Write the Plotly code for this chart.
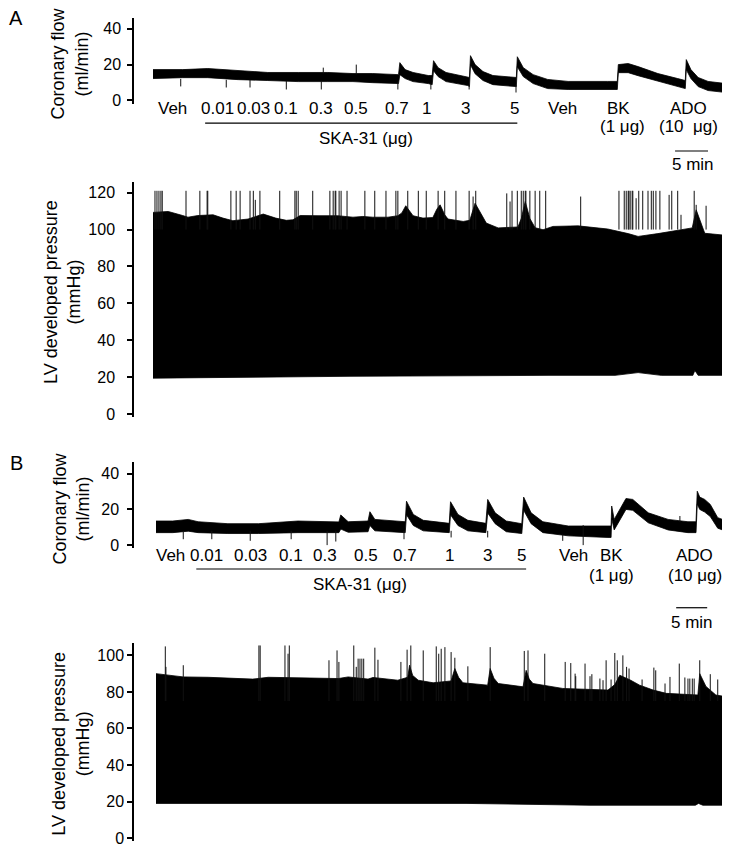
import plotly.graph_objects as go

# ---------------- Panel A : coronary flow (ml/min) vs time (min) ----------------
flow_a_t = [0, 4.5, 8.3, 12.9, 17.4, 22.0, 26.5, 30.3, 33.3, 37.2, 37.4, 38.2, 39.4, 41.7, 42.3,
            42.5, 43.2, 44.4, 47.7, 47.95, 48.1, 48.8, 50.0, 51.5, 55.05, 55.2, 56.1, 57.6, 59.8, 62.9,
            68.9, 70.35, 70.5, 72.0, 73.5, 76.5, 79.5, 80.65, 80.8, 81.5, 82.6, 84.1, 86.8]
flow_a_top = [17.2, 17.2, 17.8, 16.7, 15.6, 15.6, 15.6, 15.0, 15.0, 14.4, 21.1, 17.2, 15.6, 13.9, 13.9,
              22.2, 18.3, 15.6, 12.8, 12.8, 25.0, 20.0, 16.1, 13.9, 12.8, 24.4, 18.3, 14.4, 11.7, 10.6,
              10.6, 10.6, 20.0, 20.6, 18.9, 15.0, 12.2, 11.1, 22.8, 17.2, 12.8, 10.6, 9.4]
flow_a_bot = [12.2, 12.7, 12.7, 11.6, 11.1, 10.5, 10.5, 10.5, 9.9, 9.4, 14.4, 12.2, 10.5, 9.4, 8.8,
              16.6, 13.3, 10.5, 8.3, 7.7, 19.9, 14.9, 11.1, 8.8, 7.7, 18.8, 13.3, 9.4, 6.6, 6.1,
              6.1, 6.1, 15.5, 15.5, 13.8, 10.5, 7.7, 6.6, 17.2, 12.2, 7.7, 5.5, 4.4]
flow_a_spike_t = [4.2, 11.1, 14.7, 20.2, 25.5, 25.8, 30.8, 37.1, 42.1, 47.9, 55.0]
flow_a_spike_from = [12.0, 11.5, 11.5, 11.0, 11.0, 15.0, 14.5, 10.0, 9.5, 8.5, 8.5]
flow_a_spike_to = [7.8, 7.2, 7.2, 6.1, 6.1, 18.3, 20.0, 6.1, 6.1, 6.1, 4.4]

# ---------------- Panel A : LV developed pressure (mmHg) ----------------
press_a_top_t = [0.0, 2.3, 4.5, 5.3, 6.8, 9.1, 10.6, 12.1, 14.4, 16.7, 18.6, 20.2, 21.2, 22.3, 25.0,
                 28.0, 30.3, 31.8, 33.3, 35.6, 37.1, 37.7, 38.3, 39.4, 40.9, 42.4, 43.0, 43.5, 44.2,
                 44.7, 47.0, 48.0, 48.8, 49.5, 50.5, 52.3, 55.3, 55.8, 56.4, 57.1, 57.9, 59.1, 60.6,
                 64.4, 68.9, 72.0, 73.5, 76.5, 78.8, 81.7, 82.3, 83.6, 84.1, 87.4]
press_a_top = [109.3, 109.8, 107.6, 106.7, 107.6, 108.0, 106.2, 104.8, 105.7, 108.4, 106.2, 105.0, 105.3,
               107.6, 107.5, 107.5, 106.7, 107.1, 106.7, 106.7, 107.5, 109.0, 112.9, 107.5, 106.2, 106.5,
               111.0, 113.4, 108.0, 105.7, 104.4, 105.0, 114.3, 110.0, 103.5, 100.9, 101.4, 106.0, 115.2,
               106.0, 101.0, 99.9, 101.7, 102.0, 100.3, 97.8, 96.3, 97.8, 99.0, 100.9, 110.7, 98.0, 97.8,
               96.7]
press_a_bot_t = [0.0, 30.0, 60.0, 70.0, 73.5, 77.0, 81.8, 82.1, 82.6, 87.4]
press_a_bot = [19.5, 20.5, 21.0, 21.0, 22.5, 21.0, 21.0, 23.7, 21.0, 21.0]
press_a_spike_t = [0.3, 0.6, 0.9, 1.2, 1.4, 5.0, 7.1, 8.2, 8.3, 11.8, 12.6, 13.2, 14.7, 15.2, 15.5,
                   16.2, 19.2, 21.5, 21.7, 22.0, 24.2, 26.8, 27.3, 27.6, 27.7, 28.2, 28.5, 29.4, 32.1,
                   33.6, 35.3, 36.8, 37.1, 38.6, 40.2, 41.4, 43.2, 44.2, 45.9, 47.9, 48.5, 48.9, 53.6,
                   54.1, 54.4, 55.2, 55.8, 56.1, 56.4, 56.5, 57.1, 57.9, 58.6, 59.5, 64.8, 70.6, 71.4,
                   71.7, 72.0, 72.1, 72.3, 72.6, 72.7, 73.2, 73.6, 74.2, 75.0, 75.5, 75.8, 76.2, 76.8,
                   78.2, 78.6, 79.5, 80.0, 82.0, 82.3, 83.8]
press_a_spike_top = [121, 121, 121, 121, 121, 121, 121, 121, 121, 121, 121, 121, 121, 121, 116.1,
                     121, 121, 121, 121, 121, 121, 121, 121, 121, 121, 121, 121, 121, 121,
                     121, 121, 121, 121, 121, 121, 121, 121, 121, 121, 121, 117.9, 121, 119.6,
                     115.2, 121, 121, 121, 121, 121, 121, 121, 121, 121, 121, 117.9, 121, 121,
                     121, 121, 121, 121, 121, 121, 117.0, 121, 121, 121, 121, 121, 121, 121,
                     118.8, 121, 121, 108.0, 121, 113.4, 112.9]

# ---------------- Panel B : coronary flow (ml/min) ----------------
flow_b_t = [0, 2.7, 5.2, 6.8, 11.6, 16.5, 22.9, 27.7, 29.5, 29.8, 31.0, 34.2, 34.5, 35.3, 40.2, 40.4,
            41.5, 43.1, 47.3, 47.5, 48.7, 50.3, 53.2, 53.5, 54.7, 56.5, 59.0, 59.3, 60.5, 62.4, 66.5,
            72.9, 73.4, 73.5, 73.9, 75.8, 76.9, 79.4, 82.6, 85.8, 87.1, 87.3, 87.7, 88.5, 89.4, 90.6, 93.2]
flow_b_top = [13.5, 13.5, 14.4, 13.1, 12.0, 12.0, 13.5, 13.0, 13.0, 16.9, 13.1, 13.5, 18.7, 14.4, 13.1,
              24.6, 17.2, 13.9, 12.2, 24.3, 17.2, 13.9, 12.2, 25.6, 18.1, 13.5, 12.0, 26.9, 18.1, 13.1,
              10.7, 10.7, 10.7, 21.9, 14.4, 26.1, 25.6, 18.1, 14.4, 13.1, 13.1, 30.2, 26.9, 25.6, 22.8,
              15.4, 12.0]
flow_b_bot = [7.0, 7.0, 7.8, 7.0, 6.5, 6.5, 7.0, 7.0, 7.0, 9.0, 7.2, 7.5, 11.0, 8.0, 7.0,
              17.0, 11.0, 8.0, 7.0, 17.0, 11.0, 8.0, 7.0, 18.0, 12.0, 7.5, 6.5, 19.5, 12.0, 7.0,
              5.2, 4.3, 4.3, 15.0, 8.5, 20.0, 19.5, 12.5, 8.5, 7.0, 7.0, 23.0, 20.0, 18.5, 16.0,
              9.5, 6.1]
flow_b_spike_t = [4.4, 9.0, 15.2, 21.8, 27.6, 29.0, 40.0, 47.6, 53.5, 65.6, 68.9, 84.5]
flow_b_spike_from = [8.0, 8.0, 8.0, 8.0, 8.0, 8.0, 8.0, 8.0, 8.0, 6.0, 11.2, 13.0]
flow_b_spike_to = [3.3, 3.3, 2.4, 3.3, 0.0, 2.0, 3.3, 4.3, 4.3, 2.4, 0.0, 16.3]

# ---------------- Panel B : LV developed pressure (mmHg) ----------------
press_b_top_t = [0.0, 2.7, 4.4, 8.4, 15.6, 18.1, 24.5, 29.4, 31.0, 34.2, 35.0, 39.0, 40.6, 40.9, 41.4,
                 42.3, 44.7, 47.6, 48.2, 48.8, 49.5, 53.5, 53.9, 54.5, 55.2, 59.2, 59.7, 60.2, 60.8,
                 65.6, 72.9, 74.0, 74.8, 76.5, 78.0, 80.2, 82.3, 87.4, 87.7, 88.7, 90.3, 93.5]
press_b_top = [90.0, 89.1, 88.2, 88.0, 87.0, 88.0, 87.5, 87.3, 88.2, 87.0, 87.9, 86.4, 88.0, 94.6, 89.0,
               86.4, 85.0, 86.0, 92.8, 88.0, 85.0, 83.7, 92.8, 87.5, 84.6, 82.8, 91.8, 87.0, 84.6,
               81.9, 81.0, 84.0, 89.1, 86.5, 83.7, 81.0, 79.2, 78.3, 90.0, 83.0, 78.3, 76.5]
press_b_bot_t = [0.0, 50.0, 70.0, 87.0, 87.5, 88.2, 93.0, 93.2, 93.5]
press_b_bot = [19.0, 19.0, 18.0, 18.0, 19.0, 18.0, 18.0, 15.4, 15.4]
press_b_spike_t = [1.5, 1.6, 4.4, 16.6, 16.8, 20.8, 21.3, 21.5, 27.9, 29.2, 29.5, 31.9, 32.3, 32.6, 32.9,
                   33.2, 33.5, 35.3, 35.8, 39.5, 40.5, 41.1, 43.1, 45.2, 45.6, 46.0, 46.6, 47.6, 48.2,
                   50.3, 53.9, 59.4, 60.0, 62.7, 66.0, 66.9, 67.6, 67.7, 69.2, 70.0, 70.3, 71.6, 72.1,
                   72.6, 73.4, 74.0, 74.4, 75.3, 75.9, 76.3, 78.4, 80.3, 80.6, 82.1, 82.9, 84.4, 85.3,
                   85.8, 86.1, 86.5, 86.8, 87.7, 89.4, 90.6, 92.1, 92.7]
press_b_spike_top = [104.9, 93.7, 94.6, 105.4, 105.4, 105.4, 100.9, 105.4, 97.3, 102.7, 96.4, 105.4, 93.7,
                     98.2, 98.2, 98.2, 98.2, 104.2, 97.6, 96.4, 103.1, 105.4, 102.7, 104.9, 100.9, 103.6,
                     104.5, 101.8, 98.7, 94.0, 104.5, 102.4, 102.7, 100.9, 96.4, 95.8, 90.0, 88.6, 95.5,
                     88.6, 89.7, 87.3, 86.4, 97.3, 86.8, 101.3, 97.3, 100.0, 93.7, 92.8, 86.8, 93.3, 91.8,
                     84.6, 88.2, 95.5, 87.9, 87.3, 87.3, 87.3, 87.3, 97.3, 89.7, 86.8, 86.8, 86.8]

# ---------------- Labels ----------------
dose_labels = ["Veh", "0.01", "0.03", "0.1", "0.3", "0.5", "0.7", "1", "3", "5", "Veh", "BK", "ADO"]
sub_labels = ["(1 μg)", "(10\u00a0 μg)"]
sub_labels_b = ["(1 μg)", "(10 μg)"]
dose_a_t = [2.9, 9.7, 15.3, 20.2, 25.5, 30.8, 37.0, 41.5, 47.3, 54.8, 62.1, 70.5, 81.1]
sub_a_t = [71.2, 81.1]
dose_b_t = [2.4, 8.2, 15.2, 21.8, 27.3, 33.9, 40.2, 47.3, 53.4, 59.0, 67.3, 73.4, 86.9]
sub_b_t = [73.4, 86.9]
ska_label = "SKA-31 (μg)"
ska_a_span = [7.9, 55.2]
ska_b_span = [6.5, 59.7]
scale_label = "5 min"
scale_len_min = 5
scale_a_start = 79.1
scale_b_start = 83.9

flow_ticks = [0, 20, 40]
press_a_ticks = [0, 20, 40, 60, 80, 100, 120]
press_b_ticks = [0, 20, 40, 60, 80, 100]

FONT = "Liberation Sans, Arial, Helvetica, sans-serif"
W, H = 730, 848


def band(t, top, bot):
    return list(t) + list(t)[::-1], list(top) + list(bot)[::-1]


def envelope(tt, top, bt, bot):
    return list(tt) + list(bt)[::-1], list(top) + list(bot)[::-1]


def spikes(t, y0, y1):
    xs, ys = [], []
    for a, b, c in zip(t, y0, y1):
        xs += [a, a, None]
        ys += [b, c, None]
    return xs, ys


fig = go.Figure()


def add_fill(x, y, ax):
    fig.add_trace(go.Scatter(x=x, y=y, mode="lines", fill="toself", fillcolor="black",
                             line=dict(color="black", width=0.8), xaxis="x" + ax, yaxis="y" + ax,
                             hoverinfo="skip", showlegend=False))


def add_spikes(x, y, ax, w=1.0):
    fig.add_trace(go.Scatter(x=x, y=y, mode="lines", line=dict(color="#111", width=w),
                             xaxis="x" + ax, yaxis="y" + ax, hoverinfo="skip", showlegend=False,
                             connectgaps=False))


# A flow
x, y = band(flow_a_t, flow_a_top, flow_a_bot)
add_fill(x, y, "")
x, y = spikes(flow_a_spike_t, flow_a_spike_from, flow_a_spike_to)
add_spikes(x, y, "")
# A pressure
x, y = envelope(press_a_top_t, press_a_top, press_a_bot_t, press_a_bot)
add_fill(x, y, "2")
x, y = spikes(press_a_spike_t, [100] * len(press_a_spike_t), press_a_spike_top)
add_spikes(x, y, "2")
# B flow
x, y = band(flow_b_t, flow_b_top, flow_b_bot)
add_fill(x, y, "3")
x, y = spikes(flow_b_spike_t, flow_b_spike_from, flow_b_spike_to)
add_spikes(x, y, "3")
# B pressure
x, y = envelope(press_b_top_t, press_b_top, press_b_bot_t, press_b_bot)
add_fill(x, y, "4")
x, y = spikes(press_b_spike_t, [75] * len(press_b_spike_t), press_b_spike_top)
add_spikes(x, y, "4")


def py(p):
    return 1 - p / H


def yax(dom_px, rng, ticks, standoff):
    return dict(domain=[py(dom_px[1]), py(dom_px[0])], range=rng, tickvals=ticks,
                showline=True, linecolor="black", linewidth=1.5, ticks="outside", ticklen=5,
                tickwidth=1.5, tickcolor="black", showgrid=False, zeroline=False,
                tickfont=dict(family=FONT, size=16, color="black"), ticklabelstandoff=standoff,
                fixedrange=True)


def xax(dom_px, rng):
    return dict(domain=[dom_px[0] / W, dom_px[1] / W], range=rng, visible=False, fixedrange=True)


fig.update_layout(
    width=W, height=H, margin=dict(l=0, r=0, t=0, b=0),
    paper_bgcolor="white", plot_bgcolor="white", showlegend=False,
    font=dict(family=FONT, color="black"),
    xaxis=xax((126, 725), [(126 - 145) / 6.6, (725 - 145) / 6.6]),
    yaxis=yax((10, 97), [-2.2, 46.1], flow_ticks, 3),
    xaxis2=xax((126, 725), [(126 - 145) / 6.6, (725 - 145) / 6.6]),
    yaxis2=yax((175, 412), [-1.6, 125.9], press_a_ticks, 9),
    xaxis3=xax((128, 730), [(128 - 148) / 6.2, (730 - 148) / 6.2]),
    yaxis3=yax((457, 544), [-1.7, 46.7], flow_ticks, 5),
    xaxis4=xax((130, 730), [(130 - 148) / 6.2, (730 - 148) / 6.2]),
    yaxis4=yax((640, 839), [-1.6, 106.5], press_b_ticks, 0),
)

ann = []
shapes = []


def lab(text, x, xref, ypx, size=17):
    ann.append(dict(text=text, x=x, xref=xref, y=py(ypx), yref="paper", showarrow=False,
                    xanchor="center", yanchor="middle", font=dict(family=FONT, size=size, color="black")))


# panel A labels
for t, s in zip(dose_a_t, dose_labels):
    lab(s, t, "x", 101)
for t, s in zip(sub_a_t, sub_labels):
    lab(s, t, "x", 119)
shapes.append(dict(type="line", xref="x", yref="paper", x0=ska_a_span[0], x1=ska_a_span[1],
                   y0=py(116), y1=py(116), line=dict(color="black", width=1.2)))
lab(ska_label, 32.3, "x", 131)
shapes.append(dict(type="line", xref="x", yref="paper", x0=scale_a_start, x1=scale_a_start + scale_len_min,
                   y0=py(144), y1=py(144), line=dict(color="black", width=1.2)))
lab(scale_label, scale_a_start + 2.7, "x", 158)

# panel B labels
for t, s in zip(dose_b_t, dose_labels):
    lab(s, t, "x3", 551)
for t, s in zip(sub_b_t, sub_labels_b):
    lab(s, t, "x3", 572)
shapes.append(dict(type="line", xref="x3", yref="paper", x0=ska_b_span[0], x1=ska_b_span[1],
                   y0=py(565), y1=py(565), line=dict(color="black", width=1.2)))
lab(ska_label, 32.9, "x3", 581)
shapes.append(dict(type="line", xref="x3", yref="paper", x0=scale_b_start, x1=scale_b_start + scale_len_min,
                   y0=py(604), y1=py(604), line=dict(color="black", width=1.2)))
lab(scale_label, scale_b_start + 2.6, "x3", 619)

# panel letters
ann.append(dict(text="A", x=8 / W, y=py(10), xref="paper", yref="paper", showarrow=False,
                xanchor="center", yanchor="middle", font=dict(family=FONT, size=20, color="black")))
ann.append(dict(text="B", x=8 / W, y=py(458), xref="paper", yref="paper", showarrow=False,
                xanchor="center", yanchor="middle", font=dict(family=FONT, size=20, color="black")))

# axis titles
for txt, cx, cy in [("Coronary flow<br>(ml/min)", 62, 56),
                    ("LV developed pressure<br>(mmHg)", 55, 286),
                    ("Coronary flow<br>(ml/min)", 63, 504),
                    ("LV developed pressure<br>(mmHg)", 63, 741)]:
    ann.append(dict(text=txt, x=cx / W, y=py(cy), xref="paper", yref="paper", showarrow=False,
                    textangle=-90, xanchor="center", yanchor="middle",
                    font=dict(family=FONT, size=18, color="black")))

fig.update_layout(annotations=ann, shapes=shapes)
fig.write_html("out.html")
